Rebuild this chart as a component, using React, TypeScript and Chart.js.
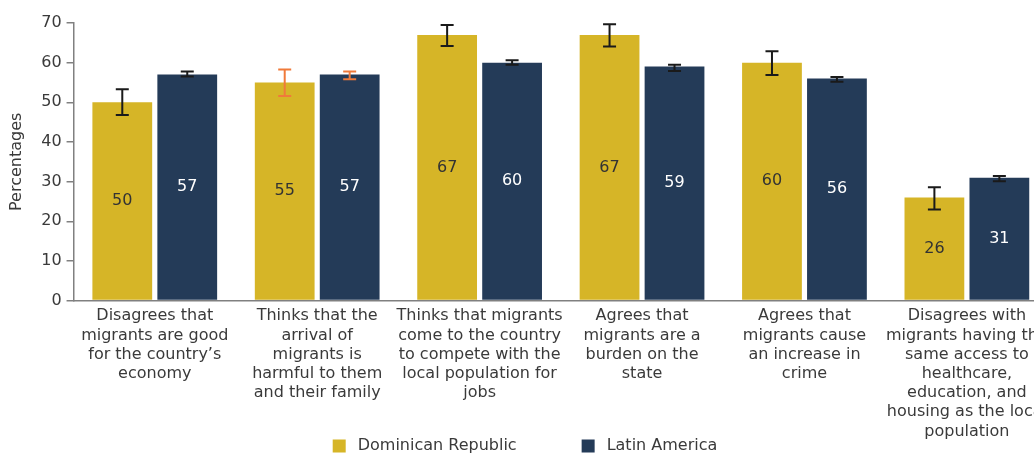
import React, { useEffect, useRef } from "react";
import { Chart, registerables } from "chart.js";

Chart.register(...registerables);

const categories: string[][] = [
  ["Disagrees that", "migrants are good", "for the country\u2019s", "economy"],
  ["Thinks that the", "arrival of", "migrants is", "harmful to them", "and their family"],
  ["Thinks that migrants", "come to the country", "to compete with the", "local population for", "jobs"],
  ["Agrees that", "migrants are a", "burden on the", "state"],
  ["Agrees that", "migrants cause", "an increase in", "crime"],
  ["Disagrees with", "migrants having the", "same access to", "healthcare,", "education, and", "housing as the local", "population"],
];

const seriesNames = ["Dominican Republic", "Latin America"];
const drValues = [50, 55, 67, 67, 60, 26];
const laValues = [57, 57, 60, 59, 56, 31];
const drLow = [46.8, 51.6, 64.2, 64.1, 56.9, 23.0];
const drHigh = [53.3, 58.3, 69.5, 69.7, 62.9, 28.6];
const laLow = [56.5, 55.8, 59.5, 57.9, 55.2, 30.1];
const laHigh = [57.8, 57.8, 60.6, 59.5, 56.4, 31.4];
const errHighlight = [false, true, false, false, false, false];
const yTicks = [0, 10, 20, 30, 40, 50, 60, 70];

const YELLOW = "#D6B527";
const NAVY = "#243B58";
const COLORS = [YELLOW, NAVY];
const FONT = "'DejaVu Sans', sans-serif";
const TEXT = "#3a3a3a";

const errorBarPlugin = {
  id: "errorBars",
  afterDatasetsDraw(chart: any) {
    const ctx = chart.ctx;
    const y = chart.scales.y;
    const lows = [drLow, laLow];
    const highs = [drHigh, laHigh];
    chart.data.datasets.forEach((ds: any, di: number) => {
      const meta = chart.getDatasetMeta(di);
      meta.data.forEach((bar: any, i: number) => {
        const x = bar.x;
        const yl = y.getPixelForValue(lows[di][i]);
        const yh = y.getPixelForValue(highs[di][i]);
        ctx.save();
        ctx.strokeStyle = errHighlight[i] ? "#F07A3A" : "#1a1a1a";
        ctx.lineWidth = 2;
        ctx.beginPath();
        ctx.moveTo(x, yl);
        ctx.lineTo(x, yh);
        ctx.moveTo(x - 6.5, yl);
        ctx.lineTo(x + 6.5, yl);
        ctx.moveTo(x - 6.5, yh);
        ctx.lineTo(x + 6.5, yh);
        ctx.stroke();
        ctx.restore();
      });
    });
  },
};

const valueLabelPlugin = {
  id: "valueLabels",
  afterDatasetsDraw(chart: any) {
    const ctx = chart.ctx;
    chart.data.datasets.forEach((ds: any, di: number) => {
      const meta = chart.getDatasetMeta(di);
      meta.data.forEach((bar: any, i: number) => {
        const v = ds.data[i];
        const cy = (bar.y + bar.base) / 2;
        ctx.save();
        ctx.fillStyle = di === 0 ? "#333333" : "#ffffff";
        ctx.font = `16px ${FONT}`;
        ctx.textAlign = "center";
        ctx.textBaseline = "middle";
        ctx.fillText(String(v), bar.x, cy);
        ctx.restore();
      });
    });
  },
};

const legendPlugin = {
  id: "customLegend",
  afterDraw(chart: any) {
    const ctx = chart.ctx;
    ctx.save();
    ctx.font = `16px ${FONT}`;
    const box = 13;
    const gapText = 12;
    const gapItem = 65;
    const widths = seriesNames.map((n) => box + gapText + ctx.measureText(n).width);
    const total = widths.reduce((a, b) => a + b, 0) + gapItem * (seriesNames.length - 1);
    let x = 1050 / 2 - total / 2;
    const cy = chart.height - 8;
    seriesNames.forEach((n, i) => {
      ctx.fillStyle = COLORS[i];
      ctx.fillRect(x, cy - box / 2, box, box);
      ctx.fillStyle = TEXT;
      ctx.textAlign = "left";
      ctx.textBaseline = "middle";
      ctx.fillText(n, x + box + gapText, cy);
      x += widths[i] + gapItem;
    });
    ctx.restore();
  },
};

export default function App() {
  const ref = useRef<HTMLCanvasElement>(null);
  useEffect(() => {
    if (!ref.current) return;
    const chart = new Chart(ref.current, {
      type: "bar",
      data: {
        labels: categories,
        datasets: [
          { label: seriesNames[0], data: drValues, backgroundColor: YELLOW },
          { label: seriesNames[1], data: laValues, backgroundColor: NAVY },
        ],
      },
      options: {
        responsive: false,
        animation: false,
        layout: { padding: { top: 23, right: 2, left: 7, bottom: 7 } },
        datasets: { bar: { categoryPercentage: 0.8, barPercentage: 0.92 } },
        plugins: {
          tooltip: { enabled: false },
          legend: { display: false },
        },
        scales: {
          x: {
            grid: { display: false, drawTicks: false },
            border: { color: "#808080", width: 1.5 },
            ticks: {
              color: TEXT,
              font: { family: FONT, size: 16, lineHeight: 1.2 },
              maxRotation: 0,
              autoSkip: false,
              padding: 6,
            },
          },
          y: {
            min: 0,
            max: 70,
            afterBuildTicks: (s: any) => {
              s.ticks = yTicks.map((v) => ({ value: v }));
            },
            grid: { display: true, drawOnChartArea: false, drawTicks: true, tickLength: 7, color: "#808080", lineWidth: 1.5 },
            border: { color: "#808080", width: 1.5 },
            ticks: {
              color: TEXT,
              font: { family: FONT, size: 16 },
              padding: 5,
            },
            title: {
              display: true,
              text: "Percentages",
              color: TEXT,
              font: { family: FONT, size: 16 },
              padding: { top: 0, bottom: 10 },
            },
          },
        },
      },
      plugins: [errorBarPlugin, valueLabelPlugin, legendPlugin],
    });
    return () => chart.destroy();
  }, []);
  return (
    <div style={{ position: "fixed", left: 0, top: 0, width: 1034, height: 454, overflow: "hidden", background: "#fff" }}>
      <canvas ref={ref} width={1054} height={454} style={{ display: "block" }} />
    </div>
  );
}
